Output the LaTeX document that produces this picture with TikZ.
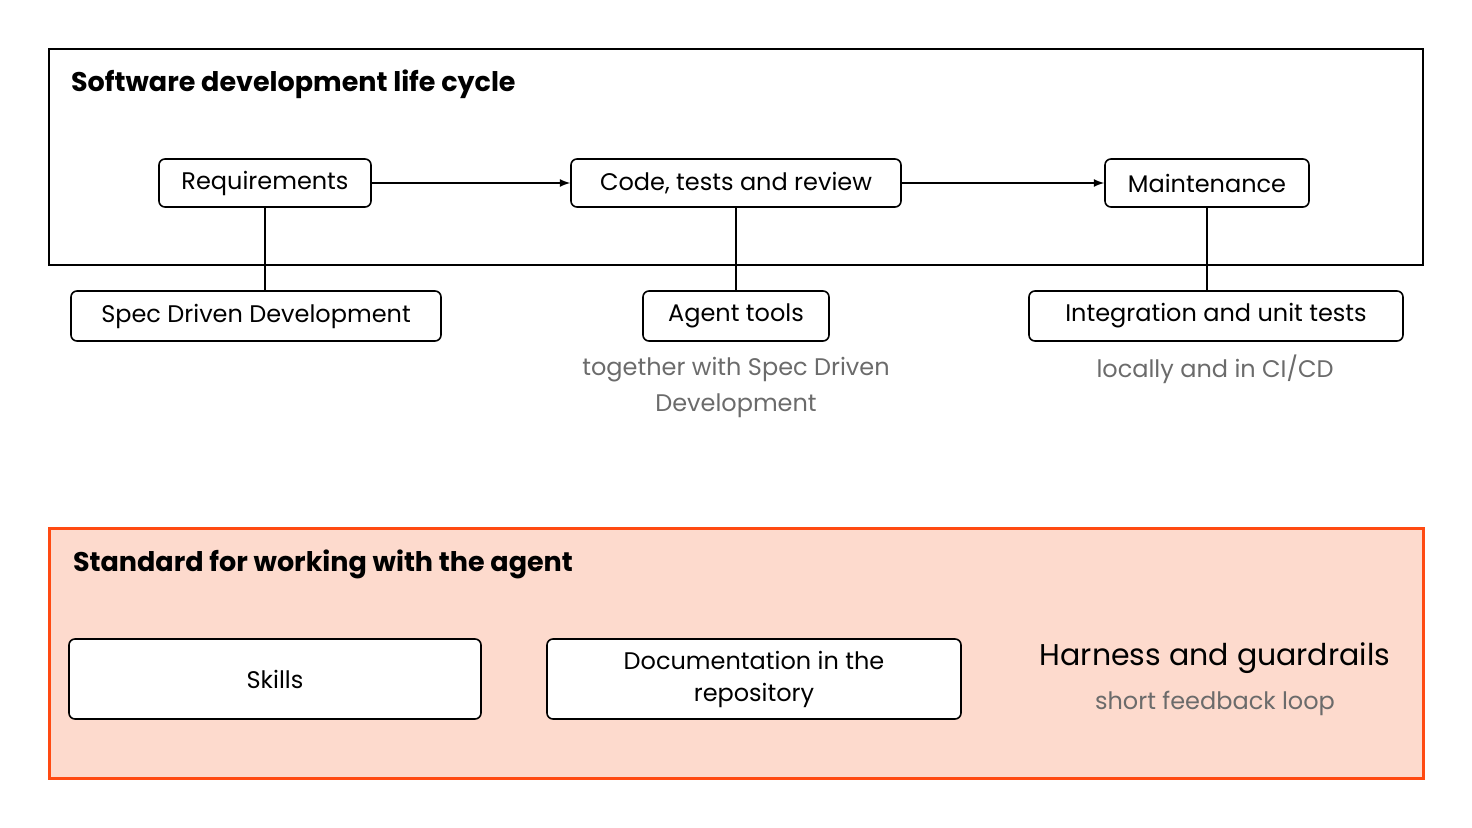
\documentclass[tikz,border=0pt]{standalone}
\usepackage{fontspec}
\setmainfont{Poppins}
\begin{document}
\begin{tikzpicture}[x=0.5pt,y=-0.5pt,
  box/.style={draw,rounded corners=3pt,line width=0.8pt,font=\fontsize{12}{14}\selectfont,inner sep=0pt},
  note/.style={text=black!58,font=\fontsize{12}{18}\selectfont,align=center},
  ttl/.style={font=\bfseries\fontsize{13.5}{16}\selectfont,anchor=west},
  link/.style={line width=0.8pt},
  arr/.style={line width=0.8pt,-latex}]
\useasboundingbox (0,0) rectangle (1472,828);
\draw[line width=0.7pt] (49,49) rectangle (1423,265);
\node[ttl] (t1) at (64,84) {Software development life cycle};
\node[box,minimum width=106pt,minimum height=24pt] (req) at (265,183) {Requirements};
\node[box,minimum width=165pt,minimum height=24pt] (code) at (736,183) {Code, tests and review};
\node[box,minimum width=102pt,minimum height=24pt] (mnt) at (1207,183) {Maintenance};
\node[box,minimum width=185pt,minimum height=25pt] (spec) at (256,316) {Spec Driven Development};
\node[box,minimum width=93pt,minimum height=25pt] (agent) at (736,316) {Agent tools};
\node[box,minimum width=187pt,minimum height=25pt] (integ) at (1216,316) {Integration and unit tests};
\draw[arr] (req) -- (code);
\draw[arr] (code) -- (mnt);
\draw[link] (req.south) -- (req.south |- spec.north);
\draw[link] (code) -- (agent);
\draw[link] (mnt.south) -- (mnt.south |- integ.north);
\node[note] (n1) at (736,387) {together with Spec Driven\\Development};
\node[note] (n2) at (1215,369) {locally and in CI/CD};
\draw[line width=1.5pt,draw={rgb,255:red,255;green,74;blue,18},fill={rgb,255:red,253;green,218;blue,205}] (49,528) rectangle (1423,778);
\node[ttl] (t2) at (66,564) {Standard for working with the agent};
\node[box,fill=white,minimum width=206pt,minimum height=40pt] (skills) at (275,679) {Skills};
\node[box,fill=white,minimum width=207pt,minimum height=40pt,align=center,font=\fontsize{12}{16}\selectfont] (doc) at (754,679) {Documentation in the\\repository};
\node[font=\fontsize{15}{18}\selectfont] (h) at (1215,658) {Harness and guardrails};
\node[note] (s) at (1215,703) {short feedback loop};
\end{tikzpicture}
\end{document}
